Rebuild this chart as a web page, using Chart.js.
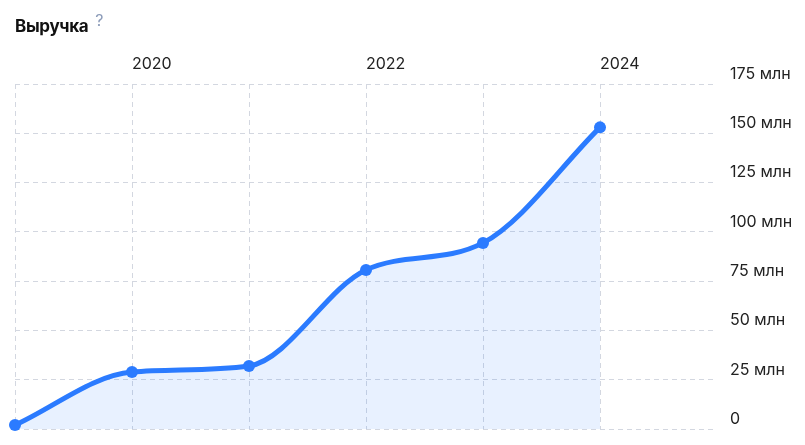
<!DOCTYPE html>
<html>
<head>
<meta charset="utf-8">
<script src="https://cdn.jsdelivr.net/npm/chart.js@4"></script>
<style>
  html, body { margin: 0; padding: 0; background: #fff; }
  #wrap { position: relative; width: 805px; height: 445px; }
  #title { position: absolute; left: 15px; top: 15px; font-family: Inter, "Noto Sans", sans-serif; font-weight: 700; font-size: 17px; color: #111; letter-spacing: -0.3px; line-height: 22px; }
  #title span { font-weight: 400; font-size: 16px; color: #8a9ab8; margin-left: 7px; position: relative; top: -6px; }
  canvas { position: absolute; left: 0; top: 0; }
</style>
</head>
<body>
<div id="wrap">
  <canvas id="c" width="805" height="445"></canvas>
  <div id="title">Выручка<span>?</span></div>
</div>
<script>
const years = [2019, 2020, 2021, 2022, 2023, 2024];
const revenue = [2, 28.9, 32, 80.7, 94.4, 153];
const yTicks = [0, 25, 50, 75, 100, 125, 150, 175];

const points = years.map((y, i) => ({ x: y, y: revenue[i] }));
const lastYear = years[years.length - 1] + 1;
const gridColor = '#d3d7e0';

new Chart(document.getElementById('c'), {
  type: 'line',
  data: {
    datasets: [{
      data: points,
      borderColor: '#2b7bff',
      borderWidth: 5,
      backgroundColor: 'rgba(43,123,255,0.11)',
      fill: 'origin',
      pointRadius: 6,
      pointHoverRadius: 6,
      pointBackgroundColor: '#2b7bff',
      pointBorderWidth: 0,
      cubicInterpolationMode: 'monotone',
      clip: false
    }]
  },
  options: {
    responsive: false,
    animation: false,
    layout: { padding: { left: 15, top: 0, right: 0, bottom: 16 } },
    plugins: { legend: { display: false }, tooltip: { enabled: false }, title: { display: false } },
    scales: {
      x: {
        type: 'linear',
        position: 'top',
        min: years[0],
        max: lastYear,
        afterFit: (s) => { s.height = 84; s.paddingLeft = 0; s.paddingRight = 0; },
        afterBuildTicks: (s) => { s.ticks = []; for (let y = years[0]; y <= lastYear; y++) s.ticks.push({ value: y }); },
        grid: {
          drawTicks: false,
          tickLength: 0,
          color: (ctx) => (ctx.tick && ctx.tick.value === lastYear) ? 'rgba(0,0,0,0)' : gridColor,
          lineWidth: 1
        },
        border: { display: false, dash: [5, 4] },
        ticks: {
          align: 'start',
          padding: 10,
          autoSkip: false,
          maxRotation: 0,
          color: '#222',
          font: { family: 'Inter', size: 16 },
          callback: (v) => (v % 2 === 0 && v <= years[years.length - 1]) ? String(v) : ''
        }
      },
      y: {
        position: 'right',
        min: yTicks[0],
        max: yTicks[yTicks.length - 1],
        afterFit: (s) => { s.width = 88; s.paddingTop = 0; s.paddingBottom = 0; },
        afterBuildTicks: (s) => { s.ticks = yTicks.map(v => ({ value: v })); },
        border: { display: false, dash: [5, 4] },
        grid: { drawTicks: false, tickLength: 0, color: gridColor, lineWidth: 1 },
        ticks: {
          padding: 13,
          labelOffset: -10,
          color: '#222',
          font: { family: 'Inter', size: 16 },
          callback: (v) => v === 0 ? '0' : v + ' млн'
        }
      }
    }
  }
});
</script>
</body>
</html>
